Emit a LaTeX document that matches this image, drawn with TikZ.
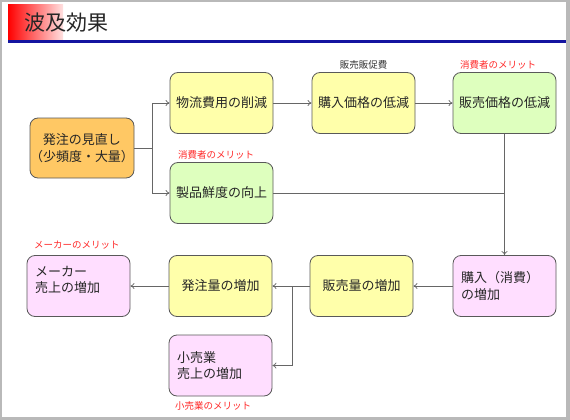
\documentclass[tikz,border=0pt]{standalone}
\usepackage{fontspec}
\setmainfont{Noto Sans CJK JP}
\usetikzlibrary{arrows.meta}
\definecolor{boxorange}{RGB}{255,200,100}
\definecolor{boxyellow}{RGB}{255,255,170}
\definecolor{boxgreen}{RGB}{222,255,190}
\definecolor{boxpink}{RGB}{255,222,255}
\definecolor{merit}{RGB}{255,40,40}
\definecolor{titleblue}{RGB}{20,20,160}
\begin{document}
\begin{tikzpicture}[x=1pt,y=-1pt,
  box/.style={draw=black!65, line width=0.8pt, rounded corners=8pt,
    minimum width=103pt, minimum height=61pt, inner sep=0pt,
    font=\fontsize{13}{16.5}\selectfont, text=black!85},
  lbox/.style={box, text width=87pt, align=left},
  conn/.style={draw=black!60, line width=0.7pt},
  arr/.style={conn, -{To[length=4pt,width=6pt]}},
  tag/.style={font=\fontsize{9.5}{11}\selectfont, text=merit, inner sep=0pt}]
\useasboundingbox (0,0) rectangle (570,420);
\fill[gray!55] (0,0) rectangle (570,420);
\fill[white] (2,2) rectangle (566,417);
% title
\shade[left color=red, right color=red!12] (8,5) rectangle (63,40);
\fill[titleblue] (8,40) rectangle (566,43);
\node[anchor=west, inner sep=0pt, font=\fontsize{21}{24}\selectfont, text=black!85] (title) at (24,23) {波及効果};
% boxes
\node[box, fill=boxorange, minimum width=102pt, minimum height=60pt, align=center] (hatchu) at (82,148) {発注の見直し\\（少頻度・大量）};
\node[box, fill=boxyellow] (butsu) at (221.5,103) {物流費用の削減};
\node[box, fill=boxgreen] (seihin) at (221.5,193) {製品鮮度の向上};
\node[box, fill=boxyellow] (konyu) at (363.5,103) {購入価格の低減};
\node[box, fill=boxgreen] (hanbai) at (504.5,103) {販売価格の低減};
\node[lbox, fill=boxpink] (shohi) at (504.5,286) {購入（消費）\\の増加};
\node[box, fill=boxyellow] (hanryo) at (361.5,286) {販売量の増加};
\node[box, fill=boxyellow] (hatryo) at (220.5,286) {発注量の増加};
\node[lbox, fill=boxpink] (maker) at (78.5,286) {メーカー\\売上の増加\\[-3pt]\mbox{}};
\node[lbox, fill=boxpink] (kouri) at (220.5,365.5) {小売業\\売上の増加};
% tags
\node[tag, text=black!80] (t1) at (363.5,65) {販売販促費};
\node[tag] (t2) at (498,65) {消費者のメリット};
\node[tag] (t3) at (216,155) {消費者のメリット};
\node[tag] (t4) at (77,245) {メーカーのメリット};
\node[tag] (t5) at (213,406) {小売業のメリット};
% connectors
\coordinate (j1) at (152,148);
\draw[conn] (hatchu.east) -- (j1);
\draw[arr] (j1) |- (butsu.west);
\draw[arr] (j1) |- (seihin.west);
\draw[arr] (butsu) -- (konyu);
\draw[arr] (konyu) -- (hanbai);
\draw[arr] (hanbai.south) -- (shohi.north);
\draw[conn] (seihin.east) -- (hanbai.south |- seihin.east);
\draw[arr] (shohi) -- (hanryo);
\coordinate (j2) at (292,286);
\draw[conn] (hanryo.west) -- (j2);
\draw[arr] (j2) -- (hatryo.east);
\draw[arr] (j2) |- (kouri.east);
\draw[arr] (hatryo) -- (maker);
\end{tikzpicture}
\end{document}
